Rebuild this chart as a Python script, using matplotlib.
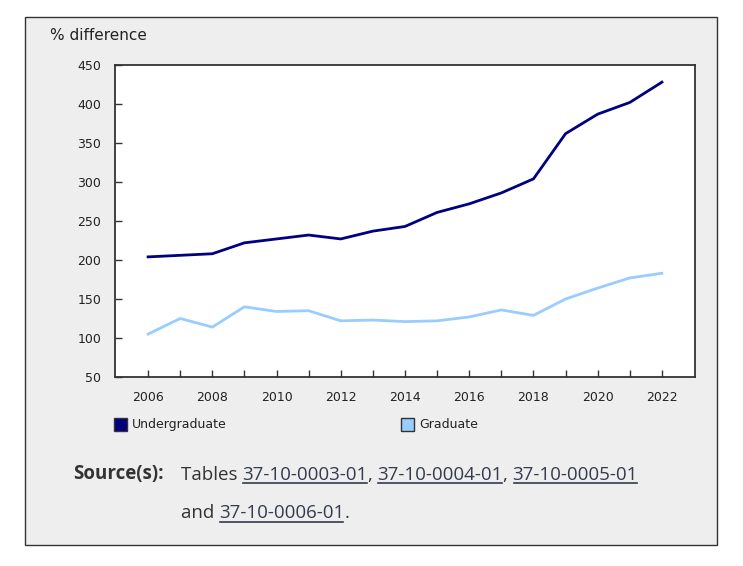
import matplotlib
matplotlib.use("Agg")
import matplotlib.pyplot as plt
from matplotlib.patches import Rectangle
from matplotlib.lines import Line2D
from matplotlib.ticker import MultipleLocator, FixedLocator

years = list(range(2006, 2023))
undergraduate = [204, 206, 208, 222, 227, 232, 227, 237, 243, 261, 272, 286, 304, 362, 387, 402, 428]
graduate = [105, 125, 114, 140, 134, 135, 122, 123, 121, 122, 127, 136, 129, 150, 164, 177, 183]
series_names = ["Undergraduate", "Graduate"]
ylabel_text = "% difference"
source_label = "Source(s):"
table_ids = ["37-10-0003-01", "37-10-0004-01", "37-10-0005-01", "37-10-0006-01"]

W, H = 743, 566
C_UG = "#000080"
C_G = "#99ccff"
TXT = "#333333"
LINK = "#333b4d"

fig = plt.figure(figsize=(W / 100, H / 100), dpi=100)
fig.patch.set_facecolor("white")

def fx(x):
    return x / W

def fy(y):
    return 1 - y / H

# gray framed panel
fig.patches.append(Rectangle((fx(25), fy(545)), fx(717) - fx(25), fy(17) - fy(545),
                             transform=fig.transFigure, facecolor="#eeeeee",
                             edgecolor="#333333", linewidth=1.0, zorder=-5))

ax = fig.add_axes([fx(115), fy(377), fx(695) - fx(115), fy(65) - fy(377)])
ax.set_zorder(5)
ax.set_facecolor("white")
ax.plot(years, undergraduate, color=C_UG, lw=2.0, solid_joinstyle="round")
ax.plot(years, graduate, color=C_G, lw=2.0, solid_joinstyle="round")
ax.set_xlim(2004.97, 2023.03)
ax.set_ylim(50, 450)
ax.xaxis.set_major_locator(FixedLocator(years[::2]))
ax.xaxis.set_minor_locator(FixedLocator(years[1::2]))
ax.yaxis.set_major_locator(MultipleLocator(50))
ax.tick_params(axis="both", which="both", direction="in", length=5, width=1.0,
               color="#333333", labelcolor="#222222", labelsize=9)
ax.tick_params(axis="x", which="major", pad=10)
ax.tick_params(axis="y", pad=10)
for s in ax.spines.values():
    s.set_color("#333333")
    s.set_linewidth(1.3)
for lbl in ax.get_xticklabels() + ax.get_yticklabels():
    lbl.set_fontfamily("DejaVu Sans")

fig.text(fx(50), fy(36), ylabel_text, fontsize=11, color="#222222",
         ha="left", va="center", family="DejaVu Sans")

# legend
for (x0, name, col) in [(114, series_names[0], C_UG), (401, series_names[1], C_G)]:
    fig.patches.append(Rectangle((fx(x0), fy(431)), fx(13), 13 / H,
                                 transform=fig.transFigure, facecolor=col,
                                 edgecolor="#333333", linewidth=1.0))
    fig.text(fx(x0 + 18), fy(424.5), name, fontsize=9, color="#222222",
             ha="left", va="center", family="DejaVu Sans")

# source text with underlined links
fig.canvas.draw()
renderer = fig.canvas.get_renderer()

def put(x, y, s, underline=False, bold=False):
    t = fig.text(fx(x), fy(y), s, fontsize=13.5, color=TXT if not underline else LINK,
                 ha="left", va="baseline", family="Open Sans",
                 fontweight="bold" if bold else "normal")
    bb = t.get_window_extent(renderer=renderer)
    if underline:
        fig.lines.append(Line2D([bb.x0 / W + 1 / W, bb.x1 / W - 1 / W], [fy(y + 3.2), fy(y + 3.2)],
                                transform=fig.transFigure, color=LINK, lw=1.2))
    return bb.x1

put(73, 479.5, source_label, bold=True)
x = put(181, 479.5, "Tables ")
x = put(x, 479.5, table_ids[0], underline=True)
x = put(x, 479.5, ", ")
x = put(x, 479.5, table_ids[1], underline=True)
x = put(x, 479.5, ", ")
x = put(x, 479.5, table_ids[2], underline=True)
x = put(181, 518.5, "and ")
x = put(x, 518.5, table_ids[3], underline=True)
put(x, 518.5, ".")

fig.savefig("out.png", dpi=100, facecolor="white")
